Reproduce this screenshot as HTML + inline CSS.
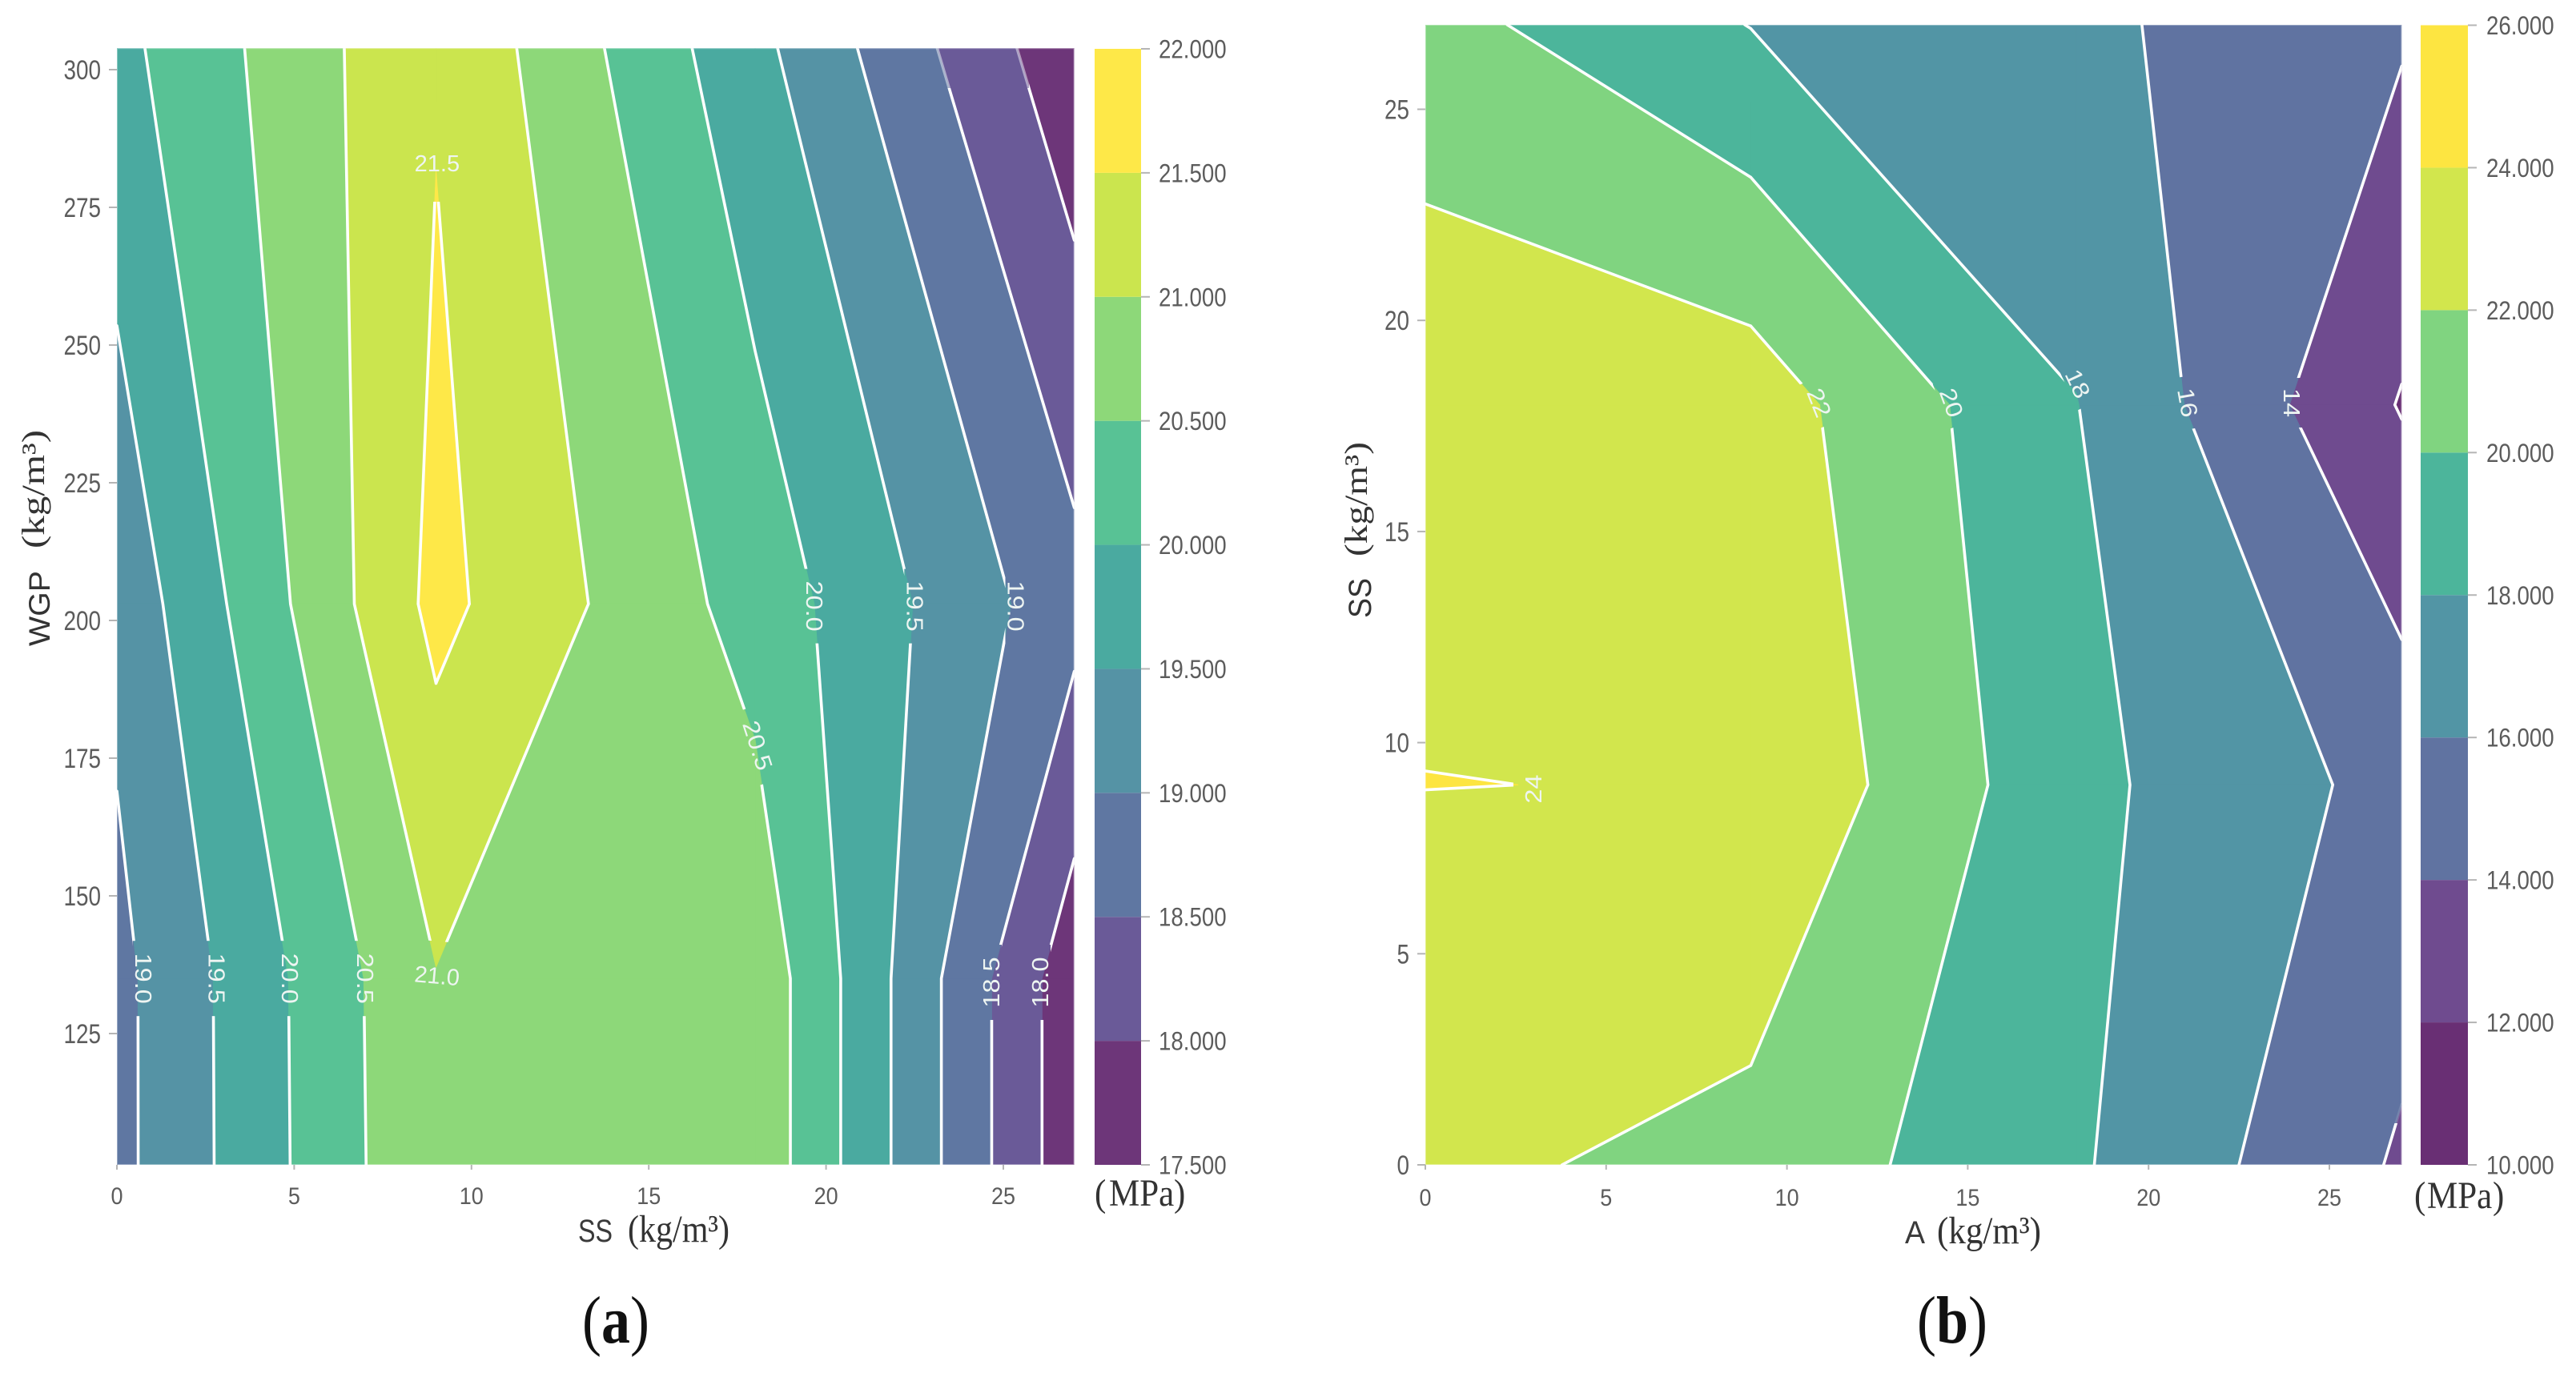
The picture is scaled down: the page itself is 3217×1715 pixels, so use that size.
<!DOCTYPE html>
<html lang="en">
<head>
<meta charset="utf-8">
<title>Contour plots of strength: (a) SS vs WGP, (b) A vs SS</title>
<style>
html,body{margin:0;padding:0;background:#fff;width:3217px;height:1715px;overflow:hidden}
svg{display:block}
.serif{font-family:"Liberation Serif","Noto Serif CJK SC",serif;fill:#333}
.sans{font-family:"Liberation Sans",sans-serif}
</style>
</head>
<body>
<svg id="figure" xmlns="http://www.w3.org/2000/svg" width="3217" height="1715" viewBox="0 0 3217 1715">
  <rect width="3217" height="1715" fill="#fff"/>
  <g id="chartA"></g>
  <g id="chartB"></g>

  <g>
    <text class="sans" x="722" y="1551" font-size="40" fill="#3a3a3a" textLength="43" lengthAdjust="spacingAndGlyphs">SS</text>
    <text class="serif" transform="translate(784 1551) scale(1 1.12)" font-size="43" textLength="127" lengthAdjust="spacingAndGlyphs">(kg/m³)</text>
  </g>
  <g>
    <text class="sans" transform="translate(62 807) rotate(-90)" font-size="37" fill="#333" textLength="94" lengthAdjust="spacingAndGlyphs">WGP</text>
    <text class="serif" transform="translate(55 685) rotate(-90)" font-size="40" textLength="148" lengthAdjust="spacingAndGlyphs">(kg/m³)</text>
  </g>
  <text class="serif" transform="translate(1367 1506) scale(1 1.12)" font-size="43"><tspan x="0">(</tspan><tspan x="18">MPa</tspan><tspan x="99">)</tspan></text>
  <text class="serif" transform="translate(727 1677) scale(1 1.16)" font-size="72" style="fill:#111">(<tspan font-weight="700">a</tspan>)</text>

  <g>
    <text class="sans" x="2379" y="1553" font-size="40" fill="#3a3a3a" textLength="25" lengthAdjust="spacingAndGlyphs">A</text>
    <text class="serif" transform="translate(2419 1553) scale(1 1.12)" font-size="43" textLength="130" lengthAdjust="spacingAndGlyphs">(kg/m³)</text>
  </g>
  <g>
    <text class="sans" transform="translate(1712 772) rotate(-90)" font-size="40" fill="#333" textLength="50" lengthAdjust="spacingAndGlyphs">SS</text>
    <text class="serif" transform="translate(1707 695) rotate(-90)" font-size="40" textLength="143" lengthAdjust="spacingAndGlyphs">(kg/m³)</text>
  </g>
  <text class="serif" transform="translate(3015 1509) scale(1 1.12)" font-size="43"><tspan x="0">(</tspan><tspan x="16">MPa</tspan><tspan x="98">)</tspan></text>
  <text class="serif" transform="translate(2394 1677) scale(1 1.16)" font-size="72" style="fill:#111">(<tspan font-weight="700">b</tspan>)</text>
</svg>

<script>
// ---- Chart A data: strength (MPa) sampled on an SS x WGP grid ----
const xGridA = [0, 9, 18, 27];
const yGridA = [101.2, 135, 203, 304];
const zRow1A = [18.86, 20.96, 20.85, 17.68];
const zRow2A = [18.86, 20.98, 20.85, 17.68];
const zRow3A = [19.14, 21.64, 20.30, 18.68];
const zRow4A = [19.86, 21.46, 19.64, 17.64];
const levelsA = [18, 18.5, 19, 19.5, 20, 20.5, 21, 21.5];
const bandEdgesA = [17.5, 18, 18.5, 19, 19.5, 20, 20.5, 21, 21.5, 22];
const xTicksA = [0, 5, 10, 15, 20, 25];
const yTicksA = [125, 150, 175, 200, 225, 250, 275, 300];
const cbTicksA = [17.5, 18, 18.5, 19, 19.5, 20, 20.5, 21, 21.5, 22];

// ---- Chart B data: strength (MPa) sampled on an A x SS grid ----
const xGridB = [0, 9, 18, 27];
const yGridB = [0, 9, 18, 27];
const zRow1B = [22.5, 21.31, 18.25, 13.75];
const zRow2B = [24.02, 23.95, 18.53, 15.32];
const zRow3B = [23.47, 23.06, 18.05, 11.87];
const zRow4B = [20.69, 17.95, 16.44, 14.26];
const levelsB = [12, 14, 16, 18, 20, 22, 24];
const bandEdgesB = [10, 12, 14, 16, 18, 20, 22, 24, 26];
const xTicksB = [0, 5, 10, 15, 20, 25];
const yTicksB = [0, 5, 10, 15, 20, 25];
const cbTicksB = [10, 12, 14, 16, 18, 20, 22, 24, 26];

// Contour annotations: printed level, anchor in data units, text angle, gap along/across, gap offset
const contourLabelsA = [
  ['19.0', 0.74, 135, 90, 94, 26, 0], ['19.5', 2.81, 135, 90, 94, 26, 0],
  ['20.0', 4.88, 135, 90, 94, 26, 0], ['20.5', 7.0, 135, 90, 94, 26, 0],
  ['18.5', 24.66, 134.3, -90, 94, 26, 0], ['18.0', 26.04, 134.3, -90, 94, 26, 0],
  ['20.0', 19.67, 202.6, 90, 93, 26, 0], ['19.5', 22.5, 202.6, 90, 93, 26, 0],
  ['19.0', 25.35, 202.6, 90, 93, 26, 0], ['20.5', 18.07, 177.3, 72, 96, 30, 0],
  ['21.0', 9.03, 135.5, 5, 70, 60, -13], ['21.5', 9.03, 283, 0, 60, 74, 11]
];
const contourLabelsB = [
  ['22', 10.89, 18.05, 68, 60, 28, 0], ['20', 14.55, 18.05, 70, 60, 28, 0],
  ['18', 18.04, 18.5, 65, 60, 28, 0], ['16', 21.08, 18.05, 80, 66, 28, 0],
  ['14', 23.96, 18.05, 90, 62, 28, 0], ['24', 2.99, 8.9, -90, 36, 50, 0]
];

const paletteA = ['#6d3679','#6a5a98','#5f77a2','#5593a5','#4aaaa0','#58c295','#8dd879','#cbe54e','#fee848'];
const paletteB = ['#692f74','#6f4b8f','#6073a1','#5295a5','#4cb59b','#80d480','#d2e64d','#fde541'];

const SVGNS = 'http://www.w3.org/2000/svg';
function mk(parent, tag, attrs) {
  const el = document.createElementNS(SVGNS, tag);
  for (const k in attrs) el.setAttribute(k, attrs[k]);
  parent.appendChild(el);
  return el;
}
function linear(d0, d1, r0, r1) {
  return v => r0 + (v - d0) * (r1 - r0) / (d1 - d0);
}
function clipZ(poly, limit, keepAbove) {
  const out = [];
  for (let i = 0; i < poly.length; i++) {
    const a = poly[i], b = poly[(i + 1) % poly.length];
    const inA = keepAbove ? a[2] >= limit : a[2] <= limit;
    const inB = keepAbove ? b[2] >= limit : b[2] <= limit;
    if (inA) out.push(a);
    if (inA !== inB) {
      const t = (limit - a[2]) / (b[2] - a[2]);
      out.push([a[0] + t * (b[0] - a[0]), a[1] + t * (b[1] - a[1]), limit]);
    }
  }
  return out;
}
function fmtPath(pts) {
  return 'M' + pts.map(p => p[0].toFixed(2) + ' ' + p[1].toFixed(2)).join('L') + 'Z';
}

function drawChart(root, c) {
  const sx = c.sx, sy = c.sy;
  const rows = c.rows, xs = c.xGrid, ys = c.yGrid;
  const L = sx(c.xDomain[0]), R = sx(c.xDomain[1]), T = sy(c.yDomain[1]), B = sy(c.yDomain[0]);

  const defs = mk(root, 'defs', {});
  const clip = mk(defs, 'clipPath', {id: c.id + '-clip'});
  mk(clip, 'rect', {x: L, y: T, width: R - L, height: B - T});
  const mask = mk(defs, 'mask', {id: c.id + '-mask', maskUnits: 'userSpaceOnUse', x: 0, y: 0, width: 3217, height: 1715});
  mk(mask, 'rect', {x: 0, y: 0, width: 3217, height: 1715, fill: '#fff'});
  c.fades.forEach(f => mk(mask, 'rect', {x: f[0], y: f[1], width: f[2], height: f[3], fill: f[4]}));

  const plot = mk(root, 'g', {'clip-path': 'url(#' + c.id + '-clip)'});
  
  

  // Filled bands, one polygon set per interval
  for (let b = 0; b < c.bandEdges.length - 1; b++) {
    let d = '';
    for (let j = 0; j < ys.length - 1; j++) {
      for (let i = 0; i < xs.length - 1; i++) {
        const quad = [
          [sx(xs[i]), sy(ys[j]), rows[j][i]],
          [sx(xs[i + 1]), sy(ys[j]), rows[j][i + 1]],
          [sx(xs[i + 1]), sy(ys[j + 1]), rows[j + 1][i + 1]],
          [sx(xs[i]), sy(ys[j + 1]), rows[j + 1][i]]
        ];
        let p = clipZ(quad, c.bandEdges[b], true);
        if (p.length) p = clipZ(p, c.bandEdges[b + 1], false);
        if (p.length > 2) d += fmtPath(p);
      }
    }
    const band = mk(plot, 'path', {d: d, fill: c.palette[b], stroke: c.palette[b], 'stroke-width': 1});
    
    
  }

  // Gaps in the isolines where their printed labels sit
  c.labels.forEach(l => {
    const cx = sx(l[1]), cy = sy(l[2]) + l[6];
    mk(mask, 'rect', {x: -l[4] / 2, y: -l[5] / 2, width: l[4], height: l[5], fill: '#000',
      transform: 'translate(' + cx + ' ' + cy + ') rotate(' + l[3] + ')'});
  });

  // Isolines by marching squares over the grid
  const lineGroup = mk(plot, 'g', {mask: 'url(#' + c.id + '-mask)', fill: 'none', stroke: '#fff', 'stroke-width': 3.6, 'stroke-linecap': 'round', 'stroke-linejoin': 'round'});
  c.levels.forEach(level => {
    let d = '';
    for (let j = 0; j < ys.length - 1; j++) {
      for (let i = 0; i < xs.length - 1; i++) {
        const q = [
          [sx(xs[i]), sy(ys[j]), rows[j][i]],
          [sx(xs[i + 1]), sy(ys[j]), rows[j][i + 1]],
          [sx(xs[i + 1]), sy(ys[j + 1]), rows[j + 1][i + 1]],
          [sx(xs[i]), sy(ys[j + 1]), rows[j + 1][i]]
        ];
        const hits = [];
        for (let e = 0; e < 4; e++) {
          const a = q[e], b = q[(e + 1) % 4];
          if ((a[2] < level) !== (b[2] < level)) {
            const t = (level - a[2]) / (b[2] - a[2]);
            hits.push([a[0] + t * (b[0] - a[0]), a[1] + t * (b[1] - a[1])]);
          }
        }
        const seg = (p, r) => {
          d += 'M' + p[0].toFixed(2) + ' ' + p[1].toFixed(2) + 'L' + r[0].toFixed(2) + ' ' + r[1].toFixed(2);
        };
        if (hits.length === 2) seg(hits[0], hits[1]);
        if (hits.length === 4) {
          const mean = (q[0][2] + q[1][2] + q[2][2] + q[3][2]) / 4;
          const cornerHigh = q[0][2] >= level;
          if ((mean >= level) === cornerHigh) { seg(hits[0], hits[1]); seg(hits[2], hits[3]); }
          else { seg(hits[1], hits[2]); seg(hits[3], hits[0]); }
        }
      }
    }
    const line = mk(lineGroup, 'path', {d: d});
    
    
  });

  // Soft light fringe along the plot border
  const edge = mk(root, 'rect', {x: L, y: T, width: R - L, height: B - T, fill: 'none', stroke: '#fff', 'stroke-opacity': .35, 'stroke-width': 2});
  
  

  // Printed contour levels
  c.labels.forEach(l => {
    const along = Math.abs(l[3]) >= 60 ? 1.12 : 1;
    const t = mk(root, 'text', {
      'class': 'sans', 'font-size': 29, fill: '#eef5f2', 'text-anchor': 'middle', y: 10,
      transform: 'translate(' + sx(l[1]) + ' ' + sy(l[2]) + ') rotate(' + l[3] + ') scale(' + along + ' 1)'
    });
    t.textContent = l[0];
    
    
  });

  // X axis
  c.xTicks.forEach(v => {
    const mark = mk(root, 'line', {x1: sx(v), x2: sx(v), y1: B, y2: B + 6, stroke: '#b5b5b5', 'stroke-width': 2});
    
    
    const t = mk(root, 'text', {
      'class': 'sans', 'font-size': 30, fill: '#5c5c5c', 'text-anchor': 'middle',
      transform: 'translate(' + sx(v) + ' ' + c.xLabelBase + ') scale(.9 1)'
    });
    t.textContent = String(v);
    
    
  });

  // Y axis
  c.yTicks.forEach(v => {
    const mark = mk(root, 'line', {x1: L - 10, x2: L, y1: sy(v), y2: sy(v), stroke: '#b5b5b5', 'stroke-width': 2});
    
    
    const t = mk(root, 'text', {
      'class': 'sans', 'font-size': 34, fill: '#5c5c5c', 'text-anchor': 'end',
      transform: 'translate(' + c.yLabelRight + ' ' + (sy(v) + 12) + ') scale(.82 1)'
    });
    t.textContent = String(v);
    
    
  });

  // Colour bar
  const cb = c.cb;
  for (let b = 0; b < c.bandEdges.length - 1; b++) {
    const y0 = cb.scale(c.bandEdges[b + 1]), y1 = cb.scale(c.bandEdges[b]);
    const seg = mk(root, 'rect', {x: cb.x, y: y0, width: cb.w, height: y1 - y0, fill: c.palette[b]});
    
    
  }
  c.cbTicks.forEach(v => {
    const y = cb.scale(v);
    const mark = mk(root, 'line', {x1: cb.x + cb.w, x2: cb.x + cb.w + 11, y1: y, y2: y, stroke: '#b5b5b5', 'stroke-width': 2});
    
    
    const t = mk(root, 'text', {
      'class': 'sans', 'font-size': 32, fill: '#5c5c5c',
      transform: 'translate(' + cb.labelX + ' ' + (y + 11.5) + ') scale(.865 1)'
    });
    t.textContent = v.toFixed(3);
    
    
  });
}

drawChart(document.getElementById('chartA'), {
  id: 'a',
  sx: linear(0, 25, 146, 1253),
  sy: linear(125, 300, 1291, 87),
  xDomain: [0, 27], yDomain: [101.16, 303.9],
  xGrid: xGridA, yGrid: yGridA,
  rows: [zRow1A, zRow2A, zRow3A, zRow4A],
  levels: levelsA, bandEdges: bandEdgesA, palette: paletteA,
  labels: contourLabelsA,
  fades: [[1160, 55, 125, 55, '#777']],
  xTicks: xTicksA, yTicks: yTicksA, cbTicks: cbTicksA,
  xLabelBase: 1504, yLabelRight: 126,
  cb: {x: 1367, w: 58, labelX: 1447, scale: linear(17.5, 22, 1455, 61)}
});

drawChart(document.getElementById('chartB'), {
  id: 'b',
  sx: linear(0, 25, 1780, 2909),
  sy: linear(0, 25, 1455, 136.5),
  xDomain: [0, 27], yDomain: [0, 27],
  xGrid: xGridB, yGrid: yGridB,
  rows: [zRow1B, zRow2B, zRow3B, zRow4B],
  levels: levelsB, bandEdges: bandEdgesB, palette: paletteB,
  labels: contourLabelsB,
  fades: [[2982, 1350, 20, 53, '#222']],
  xTicks: xTicksB, yTicks: yTicksB, cbTicks: cbTicksB,
  xLabelBase: 1506, yLabelRight: 1760,
  cb: {x: 3023, w: 59, labelX: 3105, scale: linear(10, 26, 1455, 31.5)}
});
</script>
</body>
</html>
